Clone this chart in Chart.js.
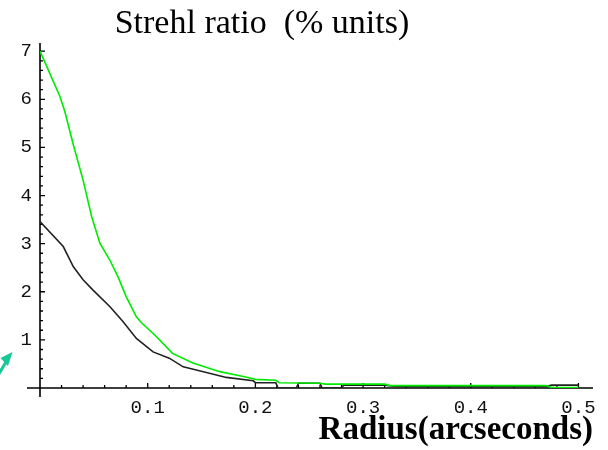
<!DOCTYPE html>
<html>
<head>
<meta charset="utf-8">
<title>Strehl ratio</title>
<script src="https://cdn.jsdelivr.net/npm/chart.js@4/dist/chart.umd.min.js"></script>
<style>
    html, body { margin: 0; padding: 0; background: #fff; }
    #wrap { width: 608px; height: 450px; }
</style>
</head>
<body>
<div id="wrap"><canvas id="strehlChart" width="608" height="450"></canvas></div>
<script>
// upper (green) curve
const greenRadius = [0, 0.0185, 0.0231, 0.031, 0.040, 0.048, 0.0556, 0.0648, 0.0725, 0.080, 0.0895, 0.094,
    0.108, 0.123, 0.142, 0.167, 0.191, 0.200, 0.219, 0.222, 0.260, 0.265, 0.320, 0.325, 0.470, 0.475, 0.500];
const greenStrehl = [7.00, 6.06, 5.74, 5.05, 4.32, 3.56, 3.01, 2.66, 2.31, 1.90, 1.48, 1.36,
    1.07, 0.72, 0.52, 0.34, 0.23, 0.18, 0.16, 0.11, 0.10, 0.08, 0.08, 0.05, 0.05, 0.01, 0.01];

// lower (black) curve
const blackRadius = [0, 0.0216, 0.031, 0.040, 0.049, 0.065, 0.077, 0.0895, 0.105, 0.120, 0.133, 0.148,
    0.173, 0.198, 0.200, 0.219, 0.221, 0.238, 0.240, 0.260, 0.262, 0.280, 0.282, 0.320, 0.330, 0.470, 0.475, 0.500];
const blackStrehl = [3.46, 2.94, 2.52, 2.25, 2.04, 1.69, 1.38, 1.03, 0.75, 0.62, 0.44, 0.36,
    0.22, 0.15, 0.11, 0.11, 0.00, 0.00, 0.10, 0.10, 0.00, 0.00, 0.06, 0.06, 0.03, 0.03, 0.06, 0.06];

const xTickValues = [0.1, 0.2, 0.3, 0.4, 0.5];
const xTickLabels = ["0.1", "0.2", "0.3", "0.4", "0.5"];
const yTickValues = [1, 2, 3, 4, 5, 6, 7];
const yTickLabels = ["1", "2", "3", "4", "5", "6", "7"];

const chartTitle = "Strehl ratio  (% units)";

const toPoints = (xs, ys) => xs.map((x, i) => ({ x: x, y: ys[i] }));

// axes crossing at the origin, with major and minor tick marks on the inside
const crossAxes = {
    id: "crossAxes",
    beforeDatasetsDraw(chart) {
        const ctx = chart.ctx;
        const xs = chart.scales.x;
        const ys = chart.scales.y;
        const x0 = xs.getPixelForValue(0);
        const y0 = ys.getPixelForValue(0);
        ctx.save();
        ctx.strokeStyle = "#000";
        ctx.lineWidth = 1.6;
        ctx.beginPath();
        ctx.moveTo(x0 - 13, y0);
        ctx.lineTo(xs.right, y0);
        ctx.moveTo(x0, y0 + 9);
        ctx.lineTo(x0, ys.top);
        ctx.stroke();

        ctx.lineWidth = 1.3;
        ctx.beginPath();
        for (let i = 1; i * 0.02 <= xs.max; i++) {
            const px = xs.getPixelForValue(i * 0.02);
            const len = i % 5 === 0 ? 5 : 3;
            ctx.moveTo(px, y0);
            ctx.lineTo(px, y0 - len);
        }
        for (let i = 1; i * 0.2 <= ys.max; i++) {
            const py = ys.getPixelForValue(i * 0.2);
            const len = i % 5 === 0 ? 5 : 3;
            ctx.moveTo(x0, py);
            ctx.lineTo(x0 + len, py);
        }
        ctx.stroke();
        ctx.restore();
    },
    afterDraw(chart) {
        const ctx = chart.ctx;
        ctx.save();
        // title sits left of centre, over the plot
        ctx.fillStyle = "#000";
        ctx.font = "34px 'Liberation Serif', 'Times New Roman', serif";
        ctx.textAlign = "center";
        ctx.textBaseline = "alphabetic";
        ctx.fillText(chartTitle, 262, 33);

        // little teal pointer at the lower left
        ctx.strokeStyle = "#17c896";
        ctx.fillStyle = "#17c896";
        ctx.lineWidth = 3;
        ctx.beginPath();
        ctx.moveTo(-6, 382);
        ctx.lineTo(9, 357);
        ctx.stroke();
        ctx.beginPath();
        ctx.moveTo(12.5, 352);
        ctx.lineTo(0.5, 358);
        ctx.lineTo(8, 366);
        ctx.closePath();
        ctx.fill();
        ctx.restore();
    }
};

const tickFont = { family: "'Liberation Mono', 'DejaVu Sans Mono', monospace", size: 19 };

new Chart(document.getElementById("strehlChart"), {
    type: "line",
    data: {
        datasets: [
            {
                data: toPoints(greenRadius, greenStrehl),
                borderColor: "rgb(0,235,0)",
                borderWidth: 1.6,
                pointRadius: 0,
                tension: 0,
                fill: false
            },
            {
                data: toPoints(blackRadius, blackStrehl),
                borderColor: "#222",
                borderWidth: 1.6,
                pointRadius: 0,
                tension: 0,
                fill: false
            }
        ]
    },
    options: {
        responsive: false,
        animation: false,
        events: [],
        layout: { padding: { left: 0, right: 15, top: 43, bottom: 0 } },
        plugins: {
            legend: { display: false },
            tooltip: { enabled: false },
            title: { display: false }
        },
        scales: {
            x: {
                type: "linear",
                min: 0,
                max: 0.5135,
                grid: { display: false, drawTicks: false },
                border: { display: false },
                afterBuildTicks: s => { s.ticks = xTickValues.map(v => ({ value: v })); },
                afterFit: s => { s.height = 62; },
                ticks: {
                    color: "#111",
                    font: tickFont,
                    padding: 9,
                    maxRotation: 0,
                    autoSkip: false,
                    callback: (v, i) => xTickLabels[i]
                },
                title: {
                    display: true,
                    text: "Radius(arcseconds)",
                    align: "end",
                    color: "#000",
                    font: { family: "'Liberation Serif', 'Times New Roman', serif", size: 33, weight: "bold" },
                    padding: { top: 0, bottom: 0 }
                }
            },
            y: {
                type: "linear",
                min: 0,
                max: 7.17,
                grid: { display: false, drawTicks: false },
                border: { display: false },
                afterBuildTicks: s => { s.ticks = yTickValues.map(v => ({ value: v })); },
                afterFit: s => { s.width = 40; },
                ticks: {
                    color: "#111",
                    font: tickFont,
                    padding: 8,
                    autoSkip: false,
                    callback: (v, i) => yTickLabels[i]
                }
            }
        }
    },
    plugins: [crossAxes]
});
</script>
</body>
</html>
